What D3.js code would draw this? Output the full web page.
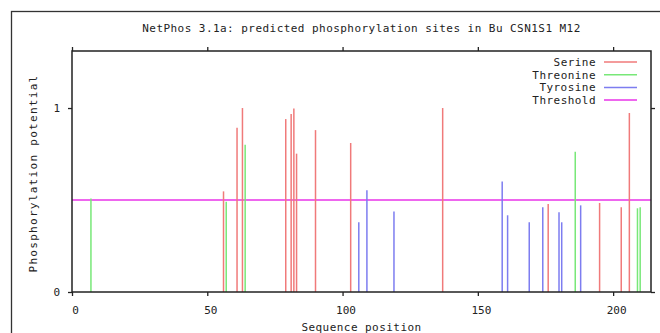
<!DOCTYPE html>
<html lang="en">
<head>
    <meta charset="UTF-8">
    <title>NetPhos 3.1a</title>
    <script src="https://d3js.org/d3.v7.min.js"></script>
    <style>
        body { margin: 0; background: #fff; }
        text { font-family: "DejaVu Sans Mono", monospace; font-size: 11px; fill: #222; }
    </style>
</head>
<body>
    <script>
        // predicted sites: [position, potential]
        const serine = [[56, 0.547], [61, 0.893], [63, 1.0], [79, 0.94], [81, 0.967], [82, 0.998],
            [83, 0.752], [90, 0.88], [103, 0.81], [137, 1.0], [176, 0.478], [195, 0.484],
            [203, 0.46], [206, 0.973]];
        const threonine = [[7, 0.508], [57, 0.49], [64, 0.8], [186, 0.763], [209, 0.455], [210, 0.46]];
        const tyrosine = [[106, 0.379], [109, 0.553], [119, 0.438], [159, 0.6], [161, 0.417],
            [169, 0.379], [174, 0.46], [180, 0.433], [181, 0.379], [188, 0.471]];
        const threshold = 0.5;
        const seqLength = 214;
        const xTicks = [0, 50, 100, 150, 200];
        const yTicks = [0, 1];
        const legendNames = ["Serine", "Threonine", "Tyrosine", "Threshold"];

        const colors = { Serine: "#f07a7a", Threonine: "#78e878", Tyrosine: "#7d7df0", Threshold: "#ee66ee" };

        const width = 660, height = 333;
        const plot = { left: 72, right: 651, top: 51, bottom: 292 };

        const svg = d3.select("body").append("svg")
            .attr("width", width)
            .attr("height", height);

        // outer frame
        svg.append("rect")
            .attr("x", 11.5).attr("y", 11.5)
            .attr("width", 660).attr("height", 340)
            .attr("fill", "none").attr("stroke", "#333").attr("stroke-width", 1.3);

        const x = d3.scaleLinear().domain([0, seqLength]).range([plot.left, plot.right]);
        const y = d3.scaleLinear().domain([0, 1.31]).range([plot.bottom, plot.top]);

        // title
        svg.append("text")
            .attr("x", (plot.left + plot.right) / 2)
            .attr("y", 32)
            .attr("text-anchor", "middle")
            .style("letter-spacing", "0.45px")
            .text("NetPhos 3.1a: predicted phosphorylation sites in Bu CSN1S1 M12");

        // threshold
        svg.append("line")
            .attr("x1", x(0)).attr("x2", x(seqLength))
            .attr("y1", y(threshold)).attr("y2", y(threshold))
            .attr("stroke", colors.Threshold).attr("stroke-width", 2);

        function drawSites(data, color) {
            svg.append("g").selectAll("line")
                .data(data)
                .enter().append("line")
                .attr("x1", d => x(d[0])).attr("x2", d => x(d[0]))
                .attr("y1", y(0)).attr("y2", d => y(d[1]))
                .attr("stroke", color)
                .attr("stroke-width", 1.5);
        }
        drawSites(serine, colors.Serine);
        drawSites(threonine, colors.Threonine);
        drawSites(tyrosine, colors.Tyrosine);

        // axes, ticks outward on all sides
        const bottomAxis = svg.append("g")
            .attr("transform", `translate(0,${plot.bottom})`)
            .call(d3.axisBottom(x).tickValues(xTicks).tickSize(4).tickPadding(8).tickFormat(d3.format("d")));
        const topAxis = svg.append("g")
            .attr("transform", `translate(0,${plot.top})`)
            .call(d3.axisTop(x).tickValues(xTicks).tickSize(4).tickFormat(""));
        const leftAxis = svg.append("g")
            .attr("transform", `translate(${plot.left},0)`)
            .call(d3.axisLeft(y).tickValues(yTicks).tickSize(4).tickPadding(8).tickFormat(d3.format("d")));
        const rightAxis = svg.append("g")
            .attr("transform", `translate(${plot.right},0)`)
            .call(d3.axisRight(y).tickValues(yTicks).tickSize(4).tickFormat(""));

        [bottomAxis, topAxis, leftAxis, rightAxis].forEach(g => {
            g.select(".domain").remove();
            g.selectAll(".tick line").attr("stroke", "#222").attr("stroke-width", 1.3);
            g.selectAll("text").attr("fill", "#222");
            g.attr("font-family", null).attr("font-size", null);
        });
        bottomAxis.selectAll("text").attr("dy", "0.9em").attr("dx", "3px");

        // plot frame
        svg.append("rect")
            .attr("x", plot.left).attr("y", plot.top)
            .attr("width", plot.right - plot.left).attr("height", plot.bottom - plot.top)
            .attr("fill", "none").attr("stroke", "#222").attr("stroke-width", 1.5);

        // axis titles
        svg.append("text")
            .attr("x", (plot.left + plot.right) / 2)
            .attr("y", 331)
            .attr("text-anchor", "middle")
            .style("letter-spacing", "0.45px")
            .text("Sequence position");

        svg.append("text")
            .attr("transform", `translate(37,${(plot.top + plot.bottom) / 2 + 2}) rotate(-90)`)
            .attr("text-anchor", "middle")
            .style("letter-spacing", "1.3px")
            .text("Phosphorylation potential");

        // legend
        const legend = svg.append("g").selectAll("g")
            .data(legendNames)
            .enter().append("g")
            .attr("transform", (d, i) => `translate(0,${62 + i * 12.7})`);
        legend.append("text")
            .attr("x", 596).attr("y", 4)
            .attr("text-anchor", "end")
            .style("letter-spacing", "0.45px")
            .text(d => d);
        legend.append("line")
            .attr("x1", 604).attr("x2", 637)
            .attr("stroke", d => colors[d])
            .attr("stroke-width", d => d === "Threshold" ? 2 : 1.5);
    </script>
</body>
</html>
